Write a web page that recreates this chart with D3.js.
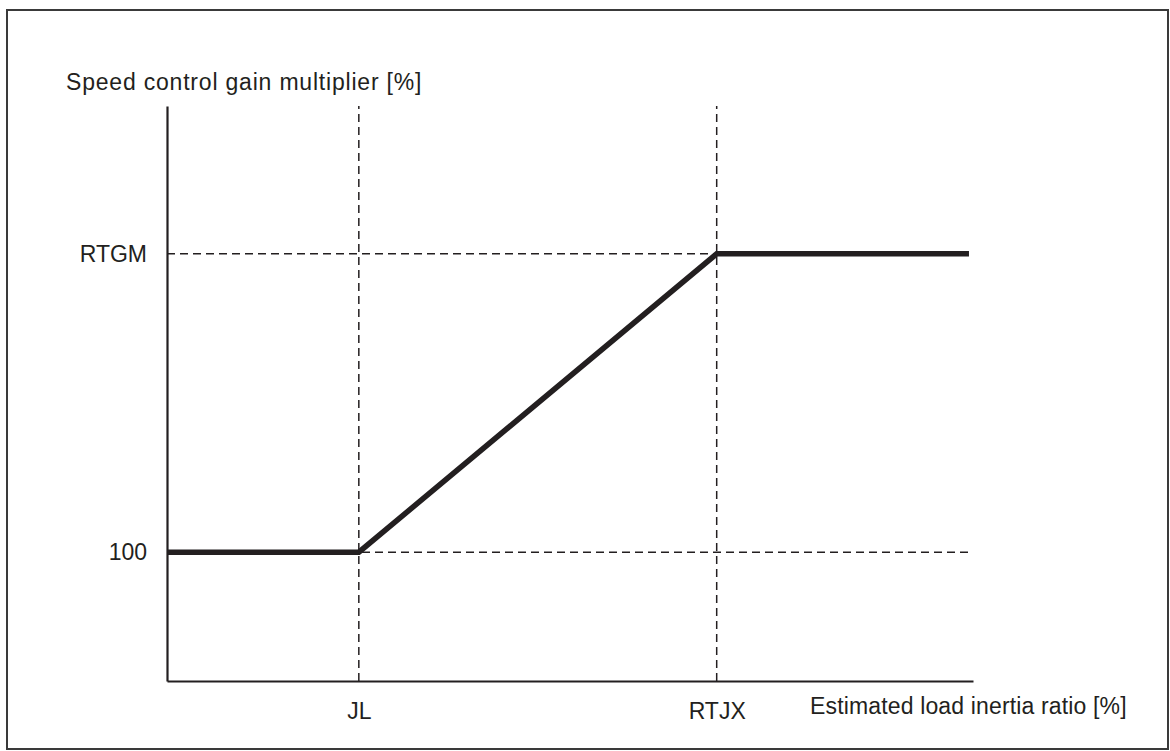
<!DOCTYPE html>
<html>
<head>
<meta charset="utf-8">
<script src="https://cdn.jsdelivr.net/npm/d3@7"></script>
<style>
  html, body { margin: 0; padding: 0; background: #ffffff; }
  svg { display: block; }
  text { font-family: "Liberation Sans", Arial, "DejaVu Sans", sans-serif; fill: #231f20; }
</style>
</head>
<body>
<svg id="chart" width="1170" height="751"></svg>
<script>
// ---- data ----
const xTickLabels = ["JL", "RTJX"];
const xTickValues = [23.8, 68.2];
const yTickLabels = ["100", "RTGM"];
const yTickValues = [22.4, 74.3];
const curveX = [0, 23.8, 68.2, 99.5];
const curveY = [22.4, 22.4, 74.3, 74.3];
const xTitle = "Estimated load inertia ratio [%]";
const yTitle = "Speed control gain multiplier [%]";

// ---- layout ----
const ink = "#231f20";
const svg = d3.select("#chart");

svg.append("rect")
  .attr("x", 7).attr("y", 10)
  .attr("width", 1161).attr("height", 739)
  .attr("fill", "none").attr("stroke", "#3a3a3a").attr("stroke-width", 2);

const x = d3.scaleLinear().domain([0, 100]).range([167, 973]);
const y = d3.scaleLinear().domain([0, 100]).range([681, 106]);

// dashed guide lines
const guides = svg.append("g")
  .attr("stroke", ink).attr("stroke-width", 1.5)
  .attr("stroke-dasharray", "8,5").attr("fill", "none");
guides.selectAll("line.v").data(xTickValues).join("line")
  .attr("class", "v")
  .attr("x1", d => x(d)).attr("x2", d => x(d))
  .attr("y1", y(0)).attr("y2", y(100));
guides.selectAll("line.h").data(yTickValues).join("line")
  .attr("class", "h")
  .attr("x1", x(0)).attr("x2", x(100))
  .attr("y1", d => y(d)).attr("y2", d => y(d));

// axes
const xAxis = d3.axisBottom(x)
  .tickValues(xTickValues)
  .tickFormat((d, i) => xTickLabels[i])
  .tickSize(0).tickSizeOuter(0).tickPadding(22);
const gx = svg.append("g").attr("transform", `translate(0,${y(0)})`).call(xAxis);

const yAxis = d3.axisLeft(y)
  .tickValues(yTickValues)
  .tickFormat((d, i) => yTickLabels[i])
  .tickSize(0).tickSizeOuter(0).tickPadding(20);
const gy = svg.append("g").attr("transform", `translate(${x(0)},0)`).call(yAxis);

[gx, gy].forEach(g => {
  g.select(".domain").attr("stroke", ink).attr("stroke-width", 2.2);
  g.selectAll("text").attr("font-size", 23).attr("fill", ink)
    .style("font-family", '"Liberation Sans", Arial, sans-serif');
});

// gain curve
const line = d3.line().x(d => x(d[0])).y(d => y(d[1]));
svg.append("path")
  .datum(curveX.map((v, i) => [v, curveY[i]]))
  .attr("d", line)
  .attr("fill", "none").attr("stroke", ink)
  .attr("stroke-width", 5.5).attr("stroke-linejoin", "miter");

// titles
svg.append("text").attr("x", 66).attr("y", 90)
  .attr("font-size", 23).attr("letter-spacing", 0.8).text(yTitle);
svg.append("text").attr("x", 810).attr("y", 714)
  .attr("font-size", 23).attr("letter-spacing", 0.15).text(xTitle);
</script>
</body>
</html>
